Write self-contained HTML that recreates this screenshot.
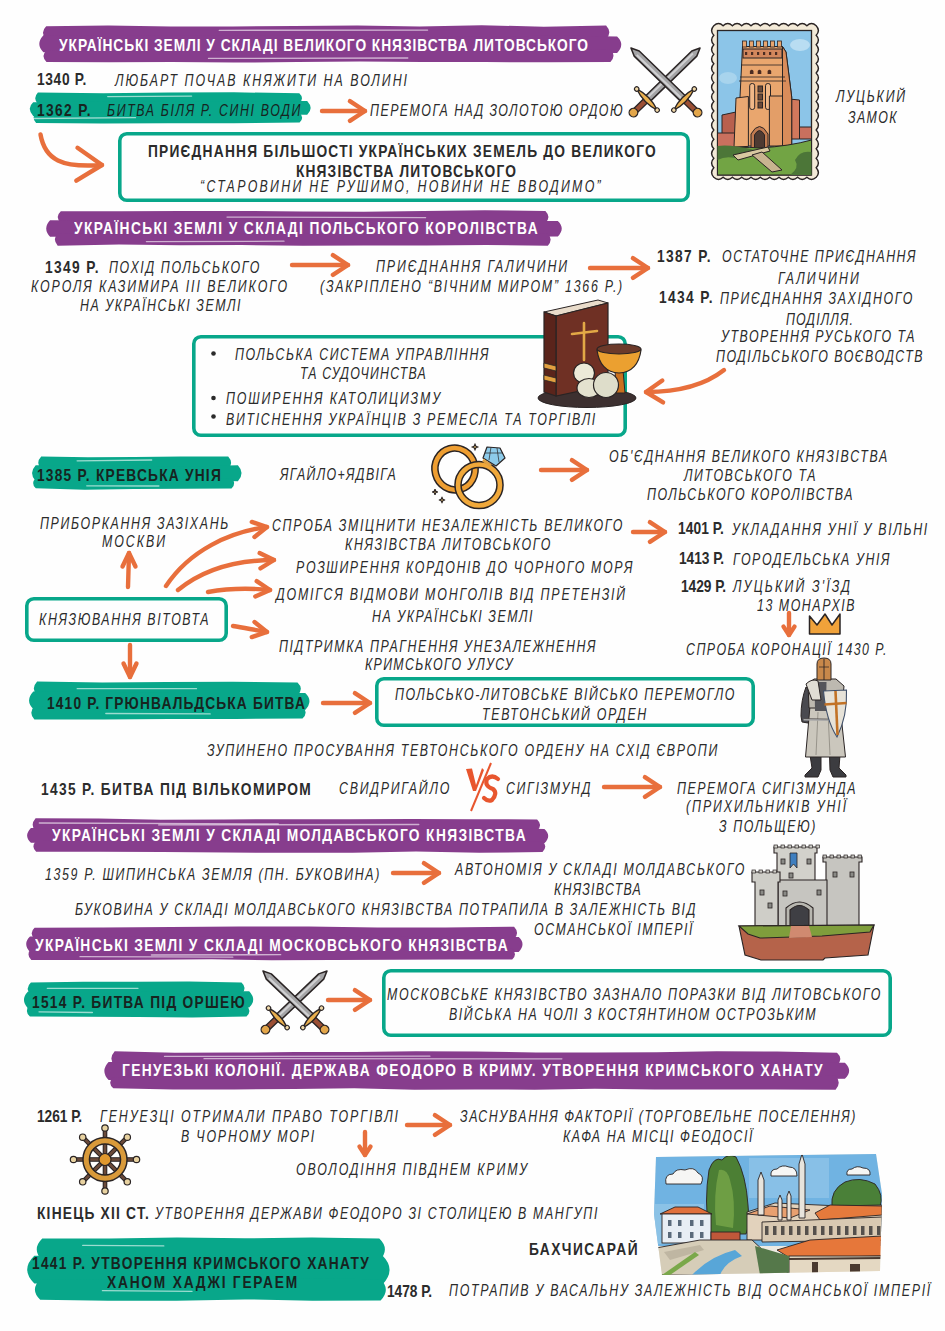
<!DOCTYPE html>
<html><head><meta charset="utf-8"><style>
html,body{margin:0;padding:0;}
body{width:945px;height:1331px;position:relative;overflow:hidden;background:#fefefe;font-family:"Liberation Sans", sans-serif;}
.t{position:absolute;white-space:nowrap;line-height:1;transform-origin:0 0;}
svg.bg{position:absolute;left:0;top:0;}
</style></head><body>
<svg class="bg" width="945" height="1331" viewBox="0 0 945 1331">
<path d="M46.2,26.2 L108.4,25.4 L170.6,26.5 L232.8,26.4 L295.0,25.9 L357.3,25.6 L419.5,26.6 L481.7,25.2 L543.9,26.7 L606.1,25.5 Q612.6,32.5 606.1,38.8 L543.9,38.8 L481.7,39.0 L419.5,38.2 L357.3,39.7 L295.0,39.3 L232.8,38.2 L170.6,38.9 L108.4,38.2 L46.2,39.4 Q39.7,32.5 46.2,26.2Z" fill="#873d8d"/><path d="M43.4,35.3 L107.2,36.0 L170.9,35.7 L234.7,35.6 L298.4,35.7 L362.1,36.6 L425.9,36.3 L489.6,36.9 L553.4,35.5 L617.1,36.4 Q625.4,44.4 617.1,53.0 L553.4,52.4 L489.6,53.2 L425.9,52.1 L362.1,52.7 L298.4,51.9 L234.7,52.6 L170.9,52.2 L107.2,52.6 L43.4,52.2 Q35.2,44.4 43.4,35.3Z" fill="#873d8d"/><path d="M46.5,50.5 L109.2,50.3 L171.8,49.4 L234.5,50.4 L297.2,49.8 L359.8,49.0 L422.5,50.2 L485.1,49.2 L547.8,50.1 L610.4,49.6 Q616.6,55.9 610.4,61.9 L547.8,62.3 L485.1,62.1 L422.5,61.9 L359.8,61.6 L297.2,62.1 L234.5,62.6 L171.8,62.1 L109.2,62.3 L46.5,61.9 Q40.4,55.9 46.5,50.5Z" fill="#873d8d"/><path d="M219.2,30.3 L427.6,30.1" stroke="#ffffff" stroke-opacity="0.6" stroke-width="1.3" stroke-linecap="round"/><path d="M208.5,58.4 L407.8,58.0" stroke="#ffffff" stroke-opacity="0.6" stroke-width="1.3" stroke-linecap="round"/>
<path d="M60.8,211.3 L121.3,211.2 L181.9,211.1 L242.5,210.9 L303.1,211.4 L363.7,211.7 L424.2,210.9 L484.8,210.3 L545.4,210.9 Q551.5,217.1 545.4,222.9 L484.8,222.5 L424.2,222.9 L363.7,223.3 L303.1,224.0 L242.5,223.1 L181.9,222.7 L121.3,223.4 L60.8,222.9 Q54.6,217.1 60.8,211.3Z" fill="#873d8d"/><path d="M50.1,220.3 L113.5,220.6 L177.0,220.1 L240.5,220.2 L304.0,220.5 L367.4,220.8 L430.9,221.1 L494.4,220.9 L557.8,220.9 Q565.7,228.3 557.8,236.6 L494.4,236.8 L430.9,236.6 L367.4,235.7 L304.0,237.0 L240.5,235.6 L177.0,235.4 L113.5,236.3 L50.1,236.8 Q42.3,228.3 50.1,220.3Z" fill="#873d8d"/><path d="M57.7,233.2 L119.0,234.2 L180.2,233.8 L241.5,233.4 L302.7,233.4 L364.0,233.4 L425.2,233.2 L486.5,234.1 L547.8,233.5 Q553.5,239.2 547.8,245.7 L486.5,244.9 L425.2,245.6 L364.0,245.5 L302.7,245.7 L241.5,245.0 L180.2,245.3 L119.0,244.5 L57.7,245.8 Q52.0,239.2 57.7,233.2Z" fill="#873d8d"/><path d="M146.4,241.6 L284.0,241.2" stroke="#ffffff" stroke-opacity="0.6" stroke-width="1.3" stroke-linecap="round"/><path d="M227.0,217.1 L425.6,217.7" stroke="#ffffff" stroke-opacity="0.6" stroke-width="1.3" stroke-linecap="round"/>
<path d="M35.6,818.2 L98.3,818.6 L161.0,819.8 L223.7,819.5 L286.4,819.2 L349.1,819.2 L411.8,819.0 L474.4,819.3 L537.1,819.4 Q543.1,824.9 537.1,831.0 L474.4,830.2 L411.8,831.3 L349.1,831.5 L286.4,830.3 L223.7,830.8 L161.0,830.8 L98.3,830.5 L35.6,831.4 Q29.7,824.9 35.6,818.2Z" fill="#873d8d"/><path d="M30.9,827.9 L95.1,828.8 L159.3,828.6 L223.5,828.6 L287.6,828.1 L351.8,828.2 L416.0,828.8 L480.2,827.7 L544.4,829.0 Q552.0,835.8 544.4,843.3 L480.2,843.0 L416.0,842.8 L351.8,844.1 L287.6,843.9 L223.5,844.1 L159.3,844.0 L95.1,843.4 L30.9,842.7 Q23.3,835.8 30.9,827.9Z" fill="#873d8d"/><path d="M36.2,841.0 L99.5,840.8 L162.8,840.5 L226.1,840.9 L289.4,841.1 L352.7,841.4 L416.0,841.1 L479.2,841.4 L542.5,841.4 Q548.1,846.4 542.5,852.1 L479.2,852.7 L416.0,851.5 L352.7,852.8 L289.4,852.7 L226.1,852.6 L162.8,852.1 L99.5,851.8 L36.2,851.7 Q30.6,846.4 36.2,841.0Z" fill="#873d8d"/><path d="M158.7,824.9 L418.8,824.5" stroke="#ffffff" stroke-opacity="0.6" stroke-width="1.3" stroke-linecap="round"/><path d="M39.3,823.0 L278.3,823.9" stroke="#ffffff" stroke-opacity="0.6" stroke-width="1.3" stroke-linecap="round"/>
<path d="M34.6,927.7 L103.1,927.4 L171.6,927.1 L240.1,926.5 L308.6,926.5 L377.1,927.5 L445.6,927.5 L514.1,926.7 Q520.0,932.9 514.1,939.1 L445.6,938.4 L377.1,939.4 L308.6,939.6 L240.1,938.2 L171.6,938.5 L103.1,938.4 L34.6,939.4 Q28.7,932.9 34.6,927.7Z" fill="#873d8d"/><path d="M30.0,936.6 L91.1,936.8 L152.2,936.4 L213.3,936.2 L274.4,936.2 L335.5,936.9 L396.6,936.3 L457.6,936.9 L518.7,936.9 Q526.3,943.8 518.7,952.0 L457.6,951.5 L396.6,951.1 L335.5,952.0 L274.4,950.8 L213.3,950.9 L152.2,951.7 L91.1,950.8 L30.0,952.0 Q22.4,943.8 30.0,936.6Z" fill="#873d8d"/><path d="M31.3,948.8 L91.4,948.9 L151.5,948.2 L211.6,949.3 L271.7,948.1 L331.8,948.4 L392.0,948.7 L452.1,949.6 L512.2,948.6 Q517.8,954.4 512.2,959.5 L452.1,959.5 L392.0,959.7 L331.8,960.1 L271.7,960.2 L211.6,959.3 L151.5,959.7 L91.4,959.9 L31.3,959.9 Q25.7,954.4 31.3,948.8Z" fill="#873d8d"/><path d="M80.0,956.7 L232.8,957.2" stroke="#ffffff" stroke-opacity="0.6" stroke-width="1.3" stroke-linecap="round"/><path d="M151.4,955.0 L280.7,954.7" stroke="#ffffff" stroke-opacity="0.6" stroke-width="1.3" stroke-linecap="round"/>
<path d="M114.7,1051.2 L174.9,1052.7 L235.1,1052.6 L295.3,1052.0 L355.5,1052.1 L415.7,1051.2 L475.8,1051.6 L536.0,1052.4 L596.2,1052.5 L656.4,1052.2 L716.6,1051.2 L776.8,1051.5 L837.0,1052.8 Q843.7,1058.7 837.0,1065.9 L776.8,1064.9 L716.6,1065.9 L656.4,1064.7 L596.2,1064.7 L536.0,1064.8 L475.8,1066.0 L415.7,1064.9 L355.5,1065.4 L295.3,1064.9 L235.1,1064.7 L174.9,1065.6 L114.7,1065.3 Q108.0,1058.7 114.7,1051.2Z" fill="#873d8d"/><path d="M108.6,1062.0 L170.0,1062.4 L231.4,1061.9 L292.7,1062.7 L354.1,1063.0 L415.4,1062.1 L476.8,1061.8 L538.1,1062.0 L599.5,1061.6 L660.8,1062.1 L722.2,1062.9 L783.6,1062.1 L844.9,1062.7 Q853.4,1070.9 844.9,1078.7 L783.6,1079.3 L722.2,1079.3 L660.8,1079.1 L599.5,1079.7 L538.1,1079.5 L476.8,1078.7 L415.4,1078.8 L354.1,1079.1 L292.7,1080.1 L231.4,1080.1 L170.0,1079.7 L108.6,1080.1 Q100.1,1070.9 108.6,1062.0Z" fill="#873d8d"/><path d="M113.3,1077.2 L173.5,1076.8 L233.7,1075.6 L293.9,1076.2 L354.1,1075.6 L414.3,1075.9 L474.5,1075.9 L534.7,1077.1 L594.9,1076.2 L655.1,1076.5 L715.2,1075.8 L775.4,1076.9 L835.6,1075.7 Q841.9,1082.7 835.6,1089.7 L775.4,1089.6 L715.2,1089.4 L655.1,1089.4 L594.9,1088.8 L534.7,1089.7 L474.5,1089.4 L414.3,1089.7 L354.1,1088.3 L293.9,1089.1 L233.7,1089.5 L173.5,1089.6 L113.3,1088.2 Q107.0,1082.7 113.3,1077.2Z" fill="#873d8d"/><path d="M164.5,1056.4 L429.9,1056.2" stroke="#ffffff" stroke-opacity="0.6" stroke-width="1.3" stroke-linecap="round"/><path d="M204.0,1058.7 L561.9,1058.8" stroke="#ffffff" stroke-opacity="0.6" stroke-width="1.3" stroke-linecap="round"/>
<path d="M37.9,92.5 L103.2,93.2 L168.6,92.4 L233.9,92.3 L299.3,93.3 Q304.7,98.4 299.3,103.1 L233.9,104.3 L168.6,103.5 L103.2,104.3 L37.9,103.8 Q32.5,98.4 37.9,92.5Z" fill="#08a78a"/><path d="M33.2,102.2 L101.7,101.6 L170.2,100.9 L238.7,101.4 L307.2,100.9 Q314.1,108.3 307.2,114.8 L238.7,114.5 L170.2,114.4 L101.7,115.4 L33.2,115.9 Q26.3,108.3 33.2,102.2Z" fill="#08a78a"/><path d="M36.1,112.0 L102.0,112.7 L167.8,112.8 L233.7,112.8 L299.6,112.7 Q304.7,117.9 299.6,122.6 L233.7,123.3 L167.8,123.2 L102.0,123.5 L36.1,122.9 Q31.0,117.9 36.1,112.0Z" fill="#08a78a"/><path d="M107.7,96.6 L191.6,96.1" stroke="#ffffff" stroke-opacity="0.6" stroke-width="1.3" stroke-linecap="round"/><path d="M30.4,118.5 L135.5,117.7" stroke="#ffffff" stroke-opacity="0.6" stroke-width="1.3" stroke-linecap="round"/>
<path d="M41.2,456.6 L88.0,457.3 L134.7,457.1 L181.5,456.4 L228.2,456.5 Q234.0,462.8 228.2,469.2 L181.5,468.4 L134.7,468.8 L88.0,468.7 L41.2,469.0 Q35.4,462.8 41.2,456.6Z" fill="#08a78a"/><path d="M35.7,465.3 L86.2,465.3 L136.8,465.7 L187.3,466.5 L237.9,465.3 Q245.3,473.3 237.9,481.3 L187.3,479.9 L136.8,480.5 L86.2,481.0 L35.7,481.2 Q28.3,473.3 35.7,465.3Z" fill="#08a78a"/><path d="M35.8,478.1 L84.7,478.9 L133.7,477.5 L182.6,477.5 L231.5,478.3 Q237.0,483.6 231.5,488.5 L182.6,488.7 L133.7,488.9 L84.7,489.7 L35.8,488.3 Q30.4,483.6 35.8,478.1Z" fill="#08a78a"/><path d="M77.1,460.8 L151.7,460.0" stroke="#ffffff" stroke-opacity="0.6" stroke-width="1.3" stroke-linecap="round"/><path d="M86.7,485.8 L158.9,486.0" stroke="#ffffff" stroke-opacity="0.6" stroke-width="1.3" stroke-linecap="round"/>
<path d="M37.1,681.4 L102.2,682.4 L167.3,682.1 L232.4,681.7 L297.5,682.5 Q304.2,688.7 297.5,695.5 L232.4,695.2 L167.3,694.9 L102.2,694.7 L37.1,694.9 Q30.5,688.7 37.1,681.4Z" fill="#08a78a"/><path d="M33.3,691.6 L101.3,691.8 L169.3,692.9 L237.2,692.9 L305.2,693.1 Q313.7,700.9 305.2,709.9 L237.2,709.8 L169.3,709.9 L101.3,710.0 L33.3,709.0 Q24.8,700.9 33.3,691.6Z" fill="#08a78a"/><path d="M34.4,706.0 L101.5,706.4 L168.5,706.5 L235.5,706.2 L302.5,706.1 Q308.8,712.7 302.5,718.4 L235.5,718.9 L168.5,718.9 L101.5,719.4 L34.4,719.6 Q28.2,712.7 34.4,706.0Z" fill="#08a78a"/><path d="M105.8,713.5 L210.2,713.9" stroke="#ffffff" stroke-opacity="0.6" stroke-width="1.3" stroke-linecap="round"/><path d="M77.2,688.7 L196.5,688.7" stroke="#ffffff" stroke-opacity="0.6" stroke-width="1.3" stroke-linecap="round"/>
<path d="M30.9,982.4 L83.6,981.7 L136.2,981.8 L188.9,981.4 L241.5,982.6 Q247.8,988.3 241.5,994.4 L188.9,994.2 L136.2,995.0 L83.6,994.9 L30.9,994.9 Q24.6,988.3 30.9,982.4Z" fill="#08a78a"/><path d="M28.0,991.4 L83.3,992.0 L138.6,991.9 L193.9,991.3 L249.2,991.2 Q257.2,999.8 249.2,1007.6 L193.9,1008.1 L138.6,1008.2 L83.3,1007.3 L28.0,1008.4 Q19.9,999.8 28.0,991.4Z" fill="#08a78a"/><path d="M29.9,1004.4 L84.0,1005.9 L138.2,1005.9 L192.3,1005.3 L246.5,1005.4 Q252.4,1011.0 246.5,1016.4 L192.3,1017.6 L138.2,1016.9 L84.0,1016.8 L29.9,1016.5 Q23.9,1011.0 29.9,1004.4Z" fill="#08a78a"/><path d="M39.0,1011.8 L92.4,1012.5" stroke="#ffffff" stroke-opacity="0.6" stroke-width="1.3" stroke-linecap="round"/><path d="M47.3,988.3 L138.0,988.3" stroke="#ffffff" stroke-opacity="0.6" stroke-width="1.3" stroke-linecap="round"/>
<path d="M42.3,1238.6 L109.7,1238.6 L177.1,1237.6 L244.5,1238.3 L311.9,1237.6 L379.3,1238.6 Q390.5,1249.2 379.3,1260.9 L311.9,1259.9 L244.5,1260.0 L177.1,1260.1 L109.7,1261.1 L42.3,1260.6 Q31.2,1249.2 42.3,1238.6Z" fill="#08a78a"/><path d="M34.3,1255.8 L103.9,1256.0 L173.6,1254.9 L243.2,1255.2 L312.8,1255.5 L382.4,1255.5 Q396.7,1269.6 382.4,1284.6 L312.8,1283.7 L243.2,1283.2 L173.6,1283.8 L103.9,1283.9 L34.3,1283.4 Q20.1,1269.6 34.3,1255.8Z" fill="#08a78a"/><path d="M40.2,1279.2 L108.3,1279.5 L176.3,1278.9 L244.4,1278.2 L312.5,1278.4 L380.6,1279.2 Q391.1,1289.5 380.6,1300.4 L312.5,1300.7 L244.4,1299.4 L176.3,1300.7 L108.3,1300.8 L40.2,1299.8 Q29.6,1289.5 40.2,1279.2Z" fill="#08a78a"/><path d="M102.4,1290.7 L192.0,1291.4" stroke="#ffffff" stroke-opacity="0.6" stroke-width="1.3" stroke-linecap="round"/><path d="M82.7,1245.4 L163.8,1245.9" stroke="#ffffff" stroke-opacity="0.6" stroke-width="1.3" stroke-linecap="round"/>
<rect x="119.8" y="133.8" width="568.4" height="66.4" rx="7" fill="none" stroke="#08a78a" stroke-width="3.6"/>
<rect x="193.8" y="336.8" width="431.4" height="98.4" rx="7" fill="none" stroke="#08a78a" stroke-width="3.6"/>
<rect x="26.8" y="598.8" width="199.4" height="41.4" rx="7" fill="none" stroke="#08a78a" stroke-width="3.6"/>
<rect x="376.8" y="678.8" width="376.4" height="46.4" rx="7" fill="none" stroke="#08a78a" stroke-width="3.6"/>
<rect x="383.8" y="970.8" width="506.4" height="64.4" rx="7" fill="none" stroke="#08a78a" stroke-width="3.6"/>
<path d="M322,111 L365,111" fill="none" stroke="#e86f3c" stroke-width="4.4" stroke-linecap="round"/><path d="M349.9,120.9 L365,111 L349.9,101.1" fill="none" stroke="#e86f3c" stroke-width="4.4" stroke-linecap="round" stroke-linejoin="round"/>
<path d="M40.5,134.5 C45,160 62,168 102,165" fill="none" stroke="#e86f3c" stroke-width="4.4" stroke-linecap="round"/><path d="M76.3,180.6 L102,165 L77.5,147.7" fill="none" stroke="#e86f3c" stroke-width="4.4" stroke-linecap="round" stroke-linejoin="round"/>
<path d="M292,265 L348,265" fill="none" stroke="#e86f3c" stroke-width="4.4" stroke-linecap="round"/><path d="M332.9,274.9 L348,265 L332.9,255.1" fill="none" stroke="#e86f3c" stroke-width="4.4" stroke-linecap="round" stroke-linejoin="round"/>
<path d="M590,268 L648,268" fill="none" stroke="#e86f3c" stroke-width="4.4" stroke-linecap="round"/><path d="M632.9,277.9 L648,268 L632.9,258.1" fill="none" stroke="#e86f3c" stroke-width="4.4" stroke-linecap="round" stroke-linejoin="round"/>
<path d="M724,370 C705,385 680,392 646,392" fill="none" stroke="#e86f3c" stroke-width="4.4" stroke-linecap="round"/><path d="M662.3,380.5 L646,392 L663.1,402.4" fill="none" stroke="#e86f3c" stroke-width="4.4" stroke-linecap="round" stroke-linejoin="round"/>
<path d="M541,470 L587,470" fill="none" stroke="#e86f3c" stroke-width="4.4" stroke-linecap="round"/><path d="M571.9,479.9 L587,470 L571.9,460.1" fill="none" stroke="#e86f3c" stroke-width="4.4" stroke-linecap="round" stroke-linejoin="round"/>
<path d="M166,586 C190,550 230,532 267,527" fill="none" stroke="#e86f3c" stroke-width="4.4" stroke-linecap="round"/><path d="M254.5,537.0 L267,527 L251.8,521.9" fill="none" stroke="#e86f3c" stroke-width="4.4" stroke-linecap="round" stroke-linejoin="round"/>
<path d="M178,590 C205,568 240,560 274,560" fill="none" stroke="#e86f3c" stroke-width="4.4" stroke-linecap="round"/><path d="M260.4,568.4 L274,560 L259.6,553.1" fill="none" stroke="#e86f3c" stroke-width="4.4" stroke-linecap="round" stroke-linejoin="round"/>
<path d="M208,592 C230,588 250,588 270,590" fill="none" stroke="#e86f3c" stroke-width="4.4" stroke-linecap="round"/><path d="M255.3,596.4 L270,590 L256.7,581.1" fill="none" stroke="#e86f3c" stroke-width="4.4" stroke-linecap="round" stroke-linejoin="round"/>
<path d="M233,626 C245,628 255,630 267,632" fill="none" stroke="#e86f3c" stroke-width="4.4" stroke-linecap="round"/><path d="M251.8,637.1 L267,632 L254.5,622.0" fill="none" stroke="#e86f3c" stroke-width="4.4" stroke-linecap="round" stroke-linejoin="round"/>
<path d="M128,587 L129,553" fill="none" stroke="#e86f3c" stroke-width="4.4" stroke-linecap="round"/><path d="M135.5,566.5 L129,553 L122.5,566.5" fill="none" stroke="#e86f3c" stroke-width="4.4" stroke-linecap="round" stroke-linejoin="round"/>
<path d="M130,645 L130,677" fill="none" stroke="#e86f3c" stroke-width="4.4" stroke-linecap="round"/><path d="M123.5,663.5 L130,677 L136.5,663.5" fill="none" stroke="#e86f3c" stroke-width="4.4" stroke-linecap="round" stroke-linejoin="round"/>
<path d="M633,532 L665,532" fill="none" stroke="#e86f3c" stroke-width="4.4" stroke-linecap="round"/><path d="M649.9,541.9 L665,532 L649.9,522.1" fill="none" stroke="#e86f3c" stroke-width="4.4" stroke-linecap="round" stroke-linejoin="round"/>
<path d="M789,613 L789,635" fill="none" stroke="#e86f3c" stroke-width="4.4" stroke-linecap="round"/><path d="M783.5,626.6 L789,635 L794.5,626.6" fill="none" stroke="#e86f3c" stroke-width="4.4" stroke-linecap="round" stroke-linejoin="round"/>
<path d="M323,703 L370,703" fill="none" stroke="#e86f3c" stroke-width="4.4" stroke-linecap="round"/><path d="M354.9,712.9 L370,703 L354.9,693.1" fill="none" stroke="#e86f3c" stroke-width="4.4" stroke-linecap="round" stroke-linejoin="round"/>
<path d="M604,787 L660,787" fill="none" stroke="#e86f3c" stroke-width="4.4" stroke-linecap="round"/><path d="M644.9,796.9 L660,787 L644.9,777.1" fill="none" stroke="#e86f3c" stroke-width="4.4" stroke-linecap="round" stroke-linejoin="round"/>
<path d="M393,873 L439,873" fill="none" stroke="#e86f3c" stroke-width="4.4" stroke-linecap="round"/><path d="M423.9,882.9 L439,873 L423.9,863.1" fill="none" stroke="#e86f3c" stroke-width="4.4" stroke-linecap="round" stroke-linejoin="round"/>
<path d="M328,1000 L370,1000" fill="none" stroke="#e86f3c" stroke-width="4.4" stroke-linecap="round"/><path d="M354.9,1009.9 L370,1000 L354.9,990.1" fill="none" stroke="#e86f3c" stroke-width="4.4" stroke-linecap="round" stroke-linejoin="round"/>
<path d="M407,1125 L450,1125" fill="none" stroke="#e86f3c" stroke-width="4.4" stroke-linecap="round"/><path d="M434.9,1134.9 L450,1125 L434.9,1115.1" fill="none" stroke="#e86f3c" stroke-width="4.4" stroke-linecap="round" stroke-linejoin="round"/>
<path d="M365,1132 L365,1155" fill="none" stroke="#e86f3c" stroke-width="4.4" stroke-linecap="round"/><path d="M359.5,1146.6 L365,1155 L370.5,1146.6" fill="none" stroke="#e86f3c" stroke-width="4.4" stroke-linecap="round" stroke-linejoin="round"/>
<circle cx="213.5" cy="353.5" r="2.3" fill="#2b2b2b"/>
<circle cx="213.5" cy="398" r="2.3" fill="#2b2b2b"/>
<circle cx="213.5" cy="416.5" r="2.3" fill="#2b2b2b"/>
<g transform="translate(632,114) rotate(-44.14)"><path d="M20.8,-3.6 L86.8,-3.6 L94.8,0 L86.8,3.6 L20.8,3.6 Z" fill="#a4a4a6" stroke="#2a2424" stroke-width="1.5" stroke-linejoin="round"/><path d="M22.8,-1 L85.8,-1" stroke="#d0d0d2" stroke-width="2"/><rect x="3" y="-2.8" width="17.8" height="5.6" fill="#9c4f34" stroke="#2a2424" stroke-width="1.3"/><circle cx="2" cy="0" r="4.3" fill="#e3a64a" stroke="#2a2424" stroke-width="1.3"/><path d="M20.8,-14.7 Q25.8,0 20.8,14.7 Q15.8,0 20.8,-14.7 Z" fill="#eab04e" stroke="#2a2424" stroke-width="1.4"/><circle cx="20.8" cy="-14.7" r="2.2" fill="#f1d9a8" stroke="#2a2424" stroke-width="1.1"/><circle cx="20.8" cy="14.7" r="2.2" fill="#f1d9a8" stroke="#2a2424" stroke-width="1.1"/></g><g transform="translate(699,114) rotate(-135.86)"><path d="M20.8,-3.6 L86.8,-3.6 L94.8,0 L86.8,3.6 L20.8,3.6 Z" fill="#a4a4a6" stroke="#2a2424" stroke-width="1.5" stroke-linejoin="round"/><path d="M22.8,-1 L85.8,-1" stroke="#d0d0d2" stroke-width="2"/><rect x="3" y="-2.8" width="17.8" height="5.6" fill="#9c4f34" stroke="#2a2424" stroke-width="1.3"/><circle cx="2" cy="0" r="4.3" fill="#e3a64a" stroke="#2a2424" stroke-width="1.3"/><path d="M20.8,-14.7 Q25.8,0 20.8,14.7 Q15.8,0 20.8,-14.7 Z" fill="#eab04e" stroke="#2a2424" stroke-width="1.4"/><circle cx="20.8" cy="-14.7" r="2.2" fill="#f1d9a8" stroke="#2a2424" stroke-width="1.1"/><circle cx="20.8" cy="14.7" r="2.2" fill="#f1d9a8" stroke="#2a2424" stroke-width="1.1"/></g><path d="M713.8,25.8 Q718.5,21.4 723.1,25.8 Q727.8,21.4 732.4,25.8 Q737.1,21.4 741.7,25.8 Q746.4,21.4 751.0,25.8 Q755.7,21.4 760.3,25.8 Q765.0,21.4 769.7,25.8 Q774.3,21.4 779.0,25.8 Q783.6,21.4 788.3,25.8 Q792.9,21.4 797.6,25.8 Q802.2,21.4 806.9,25.8 Q811.5,21.4 816.2,25.8 Q820.6,30.5 816.2,35.3 Q820.6,40.0 816.2,44.7 Q820.6,49.5 816.2,54.2 Q820.6,58.9 816.2,63.6 Q820.6,68.4 816.2,73.1 Q820.6,77.8 816.2,82.6 Q820.6,87.3 816.2,92.0 Q820.6,96.8 816.2,101.5 Q820.6,106.2 816.2,111.0 Q820.6,115.7 816.2,120.4 Q820.6,125.2 816.2,129.9 Q820.6,134.6 816.2,139.3 Q820.6,144.1 816.2,148.8 Q820.6,153.5 816.2,158.3 Q820.6,163.0 816.2,167.7 Q820.6,172.5 816.2,177.2 Q811.5,181.6 806.9,177.2 Q802.2,181.6 797.6,177.2 Q792.9,181.6 788.3,177.2 Q783.6,181.6 779.0,177.2 Q774.3,181.6 769.7,177.2 Q765.0,181.6 760.3,177.2 Q755.7,181.6 751.0,177.2 Q746.4,181.6 741.7,177.2 Q737.1,181.6 732.4,177.2 Q727.8,181.6 723.1,177.2 Q718.5,181.6 713.8,177.2 Q709.4,172.5 713.8,167.7 Q709.4,163.0 713.8,158.3 Q709.4,153.5 713.8,148.8 Q709.4,144.1 713.8,139.3 Q709.4,134.6 713.8,129.9 Q709.4,125.2 713.8,120.4 Q709.4,115.7 713.8,111.0 Q709.4,106.2 713.8,101.5 Q709.4,96.8 713.8,92.0 Q709.4,87.3 713.8,82.6 Q709.4,77.8 713.8,73.1 Q709.4,68.4 713.8,63.7 Q709.4,58.9 713.8,54.2 Q709.4,49.5 713.8,44.7 Q709.4,40.0 713.8,35.3 Q709.4,30.5 713.8,25.8Z" fill="#f3ead8" stroke="#2a2424" stroke-width="1.4"/><rect x="717.5" y="30.5" width="94.0" height="144.5" fill="#8cc5e8" stroke="#2a2424" stroke-width="1.3"/><ellipse cx="800" cy="45" rx="10" ry="6" fill="#c4e2f4" opacity="0.8"/><ellipse cx="728" cy="78" rx="9" ry="6" fill="#b4daf0" opacity="0.7"/><path d="M722,115 L736,112 L736,134 L722,134 Z" fill="#b8604e" stroke="#2a2424" stroke-width="1"/><path d="M717.5,133 L736,133 L736,152 L717.5,152 Z" fill="#c9705e" stroke="#2a2424" stroke-width="1"/><path d="M789,99 L799.5,100 L799.5,139 L789,139 Z" fill="#d2785c" stroke="#2a2424" stroke-width="1"/><path d="M799.5,127 L811.5,127 L811.5,139 L799.5,139 Z" fill="#c9705e" stroke="#2a2424" stroke-width="1"/><path d="M742.5,46.5 L782.5,46.5 L786,52 L791.7,97 L791.7,146 L736,146 L740,97 Z" fill="#e9a66e" stroke="#2a2424" stroke-width="1" stroke-linejoin="round"/><path d="M782.5,46.5 L786,52 L791.7,97 L791.7,146 L782.5,146 Z" fill="#d98c5a" stroke="#2a2424" stroke-width="1"/><rect x="742.5" y="41" width="4" height="6" fill="#e9a66e" stroke="#2a2424" stroke-width="0.8"/><rect x="749.5" y="41" width="4" height="6" fill="#e9a66e" stroke="#2a2424" stroke-width="0.8"/><rect x="756.5" y="41" width="4" height="6" fill="#e9a66e" stroke="#2a2424" stroke-width="0.8"/><rect x="763.5" y="41" width="4" height="6" fill="#e9a66e" stroke="#2a2424" stroke-width="0.8"/><rect x="770.5" y="41" width="4" height="6" fill="#e9a66e" stroke="#2a2424" stroke-width="0.8"/><rect x="777.5" y="41" width="4" height="6" fill="#e9a66e" stroke="#2a2424" stroke-width="0.8"/><rect x="743" y="49" width="39" height="9" fill="#d2875c" stroke="#2a2424" stroke-width="1"/><rect x="745.0" y="52" width="2.2" height="3" fill="#4a2c22"/><rect x="751.0" y="52" width="2.2" height="3" fill="#4a2c22"/><rect x="757.0" y="52" width="2.2" height="3" fill="#4a2c22"/><rect x="763.0" y="52" width="2.2" height="3" fill="#4a2c22"/><rect x="769.0" y="52" width="2.2" height="3" fill="#4a2c22"/><rect x="775.0" y="52" width="2.2" height="3" fill="#4a2c22"/><path d="M741,65 L783,65 M740,77 L785,77 M739,81 L786,81" stroke="#2a2424" stroke-width="0.8"/><path d="M749.9,74 L749.9,71 Q751.7,68.5 753.5,71 L753.5,74 Z" fill="#4a2c22"/><path d="M757.7,74 L757.7,71 Q759.5,68.5 761.3,71 L761.3,74 Z" fill="#4a2c22"/><path d="M767.6,74 L767.6,71 Q769.4,68.5 771.2,71 L771.2,74 Z" fill="#4a2c22"/><rect x="749.7" y="83.5" width="5" height="26" rx="2.3" fill="#f0b888" stroke="#2a2424" stroke-width="1"/><rect x="765.5" y="83.5" width="5" height="26" rx="2.3" fill="#f0b888" stroke="#2a2424" stroke-width="1"/><rect x="758" y="86" width="4.5" height="6" fill="#6a4a3a" stroke="#2a2424" stroke-width="1"/><rect x="758" y="94" width="4.5" height="6" fill="#6a4a3a" stroke="#2a2424" stroke-width="1"/><rect x="758" y="102" width="4.5" height="6" fill="#6a4a3a" stroke="#2a2424" stroke-width="1"/><path d="M736,98 L748.4,96.5 L748.4,146.4 L734,147 Z" fill="#eaa872" stroke="#2a2424" stroke-width="1"/><path d="M769.4,96 L782.5,96 L782.5,146 L769.4,146 Z" fill="#e39e68" stroke="#2a2424" stroke-width="1"/><path d="M751,149 L751,134 Q759.5,119 768,134 L768,149 Z" fill="#c07a50" stroke="#2a2424" stroke-width="1"/><path d="M754.5,149 L754.5,135 Q759.5,126 764.5,135 L764.5,149 Z" fill="#4e3a32" stroke="#2a2424" stroke-width="1"/><path d="M717.5,150 Q740,146 760,148 Q790,146 811.5,140 L811.5,175 L717.5,175 Z" fill="#72a444" stroke="#2a2424" stroke-width="1"/><path d="M717.5,146 Q730,144 755,150 L735,158 Q725,156 717.5,160 Z" fill="#4c7638"/><path d="M811.5,152 Q800,150 795,160 Q800,168 790,175 L811.5,175 Z" fill="#4c7638"/><path d="M733,155 L768,147 L770,151 L738,160 Z" fill="#d8c8a0" stroke="#2a2424" stroke-width="1"/><path d="M752,155 L762,152 L782,170 L772,172 Z" fill="#c8b490" stroke="#2a2424" stroke-width="1"/><ellipse cx="587" cy="398" rx="49" ry="9.5" fill="#3d3030" stroke="#2a2424" stroke-width="1"/><path d="M544,312 L598,300 L608,303 L556,316 Z" fill="#e9dccb" stroke="#2a2424" stroke-width="1"/><path d="M556,316 L608,303 L608,385 L556,396 Z" fill="#6f3024" stroke="#2a2424" stroke-width="1.2"/><path d="M544,312 L556,316 L556,396 L544,392 Z" fill="#5a241b" stroke="#2a2424" stroke-width="1.2"/><path d="M544,363 L556,366 L556,371 L544,368 Z M544,375 L556,378 L556,383 L544,380 Z" fill="#e2a040" stroke="#2a2424" stroke-width="0.8"/><path d="M584,323 L584,360 M572,334 L597,331" stroke="#e2a846" stroke-width="2.6" stroke-linecap="round"/><path d="M615,370 L616,393 L625,393 L623,370 Z" fill="#c9701e" stroke="#2a2424" stroke-width="1"/><path d="M597,350 Q600,372 619,373 Q638,372 641,350 Z" fill="#eba030" stroke="#2a2424" stroke-width="1.2"/><ellipse cx="619" cy="349" rx="22" ry="5" fill="#6b3a2a" stroke="#2a2424" stroke-width="1.2"/><ellipse cx="584" cy="373" rx="10.5" ry="10" fill="#ecead8" stroke="#2a2424" stroke-width="1.2"/><ellipse cx="589" cy="388" rx="12" ry="9.5" fill="#e4e2cf" stroke="#2a2424" stroke-width="1.2"/><ellipse cx="606" cy="385" rx="12.5" ry="12.5" fill="#deddca" stroke="#2a2424" stroke-width="1.2"/><ellipse cx="455" cy="469" rx="20" ry="21" fill="none" stroke="#2a2424" stroke-width="7.6" transform="rotate(-15 455 469)"/><ellipse cx="455" cy="469" rx="20" ry="21" fill="none" stroke="#ee9e32" stroke-width="4.6" transform="rotate(-15 455 469)"/><ellipse cx="479" cy="485" rx="21" ry="20.5" fill="none" stroke="#2a2424" stroke-width="7.6"/><ellipse cx="479" cy="485" rx="21" ry="20.5" fill="none" stroke="#f0a83a" stroke-width="4.6"/><path d="M487,447 L500,448 L505,458 L496,466 L483,458 Z" fill="#8dcbea" stroke="#2a2424" stroke-width="1.2" stroke-linejoin="round"/><path d="M485,453 L503,453 M491,447 L489,460 M497,448 L499,462" stroke="#2a2424" stroke-width="0.7"/><path d="M483,460 L491,466" stroke="#e0a040" stroke-width="3"/><path d="M475,443.5 Q475,447 478.5,447 Q475,447 475,450.5 Q475,447 471.5,447 Q475,447 475,443.5 Z" fill="#e8c070" stroke="#2a2424" stroke-width="1.2"/><path d="M435,489 Q435,492 438,492 Q435,492 435,495 Q435,492 432,492 Q435,492 435,489 Z" fill="#e8c070" stroke="#2a2424" stroke-width="1.2"/><path d="M442,496.8 Q442,500 445.2,500 Q442,500 442,503.2 Q442,500 438.8,500 Q442,500 442,496.8 Z" fill="#e8c070" stroke="#2a2424" stroke-width="1.2"/><path d="M809.5,634 L809.5,616 L817,625 L825,614 L832,625 L840,614 L840,634 Z" fill="#f0a23a" stroke="#2a2424" stroke-width="1.5" stroke-linejoin="round"/><path d="M810,755 L812,768 L805,775 L805,777 L818,777 L821,770 L821,755 Z" fill="#3c3c40" stroke="#2a2424" stroke-width="1"/><path d="M829.5,755 L830,770 L833,777 L846,777 L846,775 L839,768 L840,755 Z" fill="#3c3c40" stroke="#2a2424" stroke-width="1"/><path d="M806,687 Q801,700 801,716 L802,722 L808,723 L811,716 L813,692 Z" fill="#4a4a50" stroke="#2a2424" stroke-width="1"/><path d="M810,706 L840,706 L845.5,757 L805.5,757 Z" fill="#cbc7bd" stroke="#2a2424" stroke-width="1"/><path d="M818,712 L816,755 M828,712 L830,755" stroke="#8a867e" stroke-width="0.8"/><path d="M808,684 L814,679 L836,679 L844,686 L842,708 L809,708 Z" fill="#bdb9b0" stroke="#2a2424" stroke-width="1"/><path d="M814.5,682 L826.5,682 L826,711 L815,711 Z" fill="#55555a"/><path d="M806,684 Q812,678 818,681 L821,700 L812,700 Z" fill="#e0ddd4" stroke="#2a2424" stroke-width="1"/><path d="M803.5,719.5 L829,720" stroke="#a8a8a8" stroke-width="2.2"/><path d="M803.5,718.5 L829,719" stroke="#2a2424" stroke-width="0.5"/><path d="M817,680 L817,664 Q817,658 824,658 Q831,658 831,664 L831,680 Z" fill="#c8884a" stroke="#2a2424" stroke-width="1"/><path d="M824,659 L824,680" stroke="#2a2424" stroke-width="0.9"/><path d="M819,667 L829,667" stroke="#2a2424" stroke-width="0.7"/><path d="M823.5,691 L846.5,690 Q847.5,716 837,737 Q826,720 823.5,691 Z" fill="#e6e2d8" stroke="#40506a" stroke-width="1.1"/><path d="M835.5,691 L837.5,735" stroke="#c27226" stroke-width="2.6"/><path d="M824.5,704.5 L846.5,703" stroke="#c27226" stroke-width="2.6"/><path d="M823,857 L862,857 L862,862 L859,862 L859,926 L826,926 L826,862 L823,862 Z" fill="#c6c5c0" stroke="#2a2424" stroke-width="1.1"/><path d="M774,847 L817,847 L817,853 L815,853 L815,882 L777,882 L777,853 L774,853 Z" fill="#d2d1cb" stroke="#2a2424" stroke-width="1.1"/><path d="M778,880 L827,880 L827,926 L778,926 Z" fill="#c6c5c0" stroke="#2a2424" stroke-width="1.1"/><path d="M752,872 L780,872 L780,882 L778,882 L778,926 L755,926 L755,882 L752,882 Z" fill="#cfcec8" stroke="#2a2424" stroke-width="1.1"/><rect x="774" y="845" width="3.5" height="3" fill="#d2d1cb" stroke="#2a2424" stroke-width="0.7"/><rect x="781" y="845" width="3.5" height="3" fill="#d2d1cb" stroke="#2a2424" stroke-width="0.7"/><rect x="788" y="845" width="3.5" height="3" fill="#d2d1cb" stroke="#2a2424" stroke-width="0.7"/><rect x="795" y="845" width="3.5" height="3" fill="#d2d1cb" stroke="#2a2424" stroke-width="0.7"/><rect x="802" y="845" width="3.5" height="3" fill="#d2d1cb" stroke="#2a2424" stroke-width="0.7"/><rect x="809" y="845" width="3.5" height="3" fill="#d2d1cb" stroke="#2a2424" stroke-width="0.7"/><rect x="816" y="845" width="3.5" height="3" fill="#d2d1cb" stroke="#2a2424" stroke-width="0.7"/><rect x="823" y="855" width="3.5" height="3" fill="#c6c5c0" stroke="#2a2424" stroke-width="0.7"/><rect x="830" y="855" width="3.5" height="3" fill="#c6c5c0" stroke="#2a2424" stroke-width="0.7"/><rect x="837" y="855" width="3.5" height="3" fill="#c6c5c0" stroke="#2a2424" stroke-width="0.7"/><rect x="844" y="855" width="3.5" height="3" fill="#c6c5c0" stroke="#2a2424" stroke-width="0.7"/><rect x="851" y="855" width="3.5" height="3" fill="#c6c5c0" stroke="#2a2424" stroke-width="0.7"/><rect x="858" y="855" width="3.5" height="3" fill="#c6c5c0" stroke="#2a2424" stroke-width="0.7"/><rect x="752" y="870" width="3.5" height="3" fill="#cfcec8" stroke="#2a2424" stroke-width="0.7"/><rect x="759" y="870" width="3.5" height="3" fill="#cfcec8" stroke="#2a2424" stroke-width="0.7"/><rect x="766" y="870" width="3.5" height="3" fill="#cfcec8" stroke="#2a2424" stroke-width="0.7"/><rect x="773" y="870" width="3.5" height="3" fill="#cfcec8" stroke="#2a2424" stroke-width="0.7"/><path d="M790,853 L797,853 L797,868 L793.5,864 L790,868 Z" fill="#3f7fbf" stroke="#2a2424" stroke-width="0.8"/><rect x="781" y="859" width="4" height="5" fill="#8a8a86" stroke="#2a2424" stroke-width="0.8"/><rect x="807" y="859" width="4" height="5" fill="#8a8a86" stroke="#2a2424" stroke-width="0.8"/><rect x="789" y="873" width="4" height="5" fill="#8a8a86" stroke="#2a2424" stroke-width="0.8"/><rect x="760" y="890" width="4" height="5" fill="#8a8a86" stroke="#2a2424" stroke-width="0.8"/><rect x="768" y="903" width="4" height="5" fill="#8a8a86" stroke="#2a2424" stroke-width="0.8"/><rect x="783" y="891" width="4" height="5" fill="#8a8a86" stroke="#2a2424" stroke-width="0.8"/><rect x="817" y="890" width="4" height="5" fill="#8a8a86" stroke="#2a2424" stroke-width="0.8"/><rect x="833" y="872" width="4" height="5" fill="#8a8a86" stroke="#2a2424" stroke-width="0.8"/><rect x="850" y="872" width="4" height="5" fill="#8a8a86" stroke="#2a2424" stroke-width="0.8"/><path d="M786,926 L786,908 Q799.5,896 813,908 L813,926 Z" fill="#b8b7b0" stroke="#2a2424" stroke-width="1.1"/><path d="M790,926 L790,910 Q799.5,901 809,910 L809,926 Z" fill="#3f3f44" stroke="#2a2424" stroke-width="1.1"/><path d="M739,926 L874,925 L868,955 L825,958 L823,960 L761,960 L745,955 Z" fill="#b5634a" stroke="#2a2424" stroke-width="1.1"/><path d="M739,926 L874,925 L870,932 L822,936 L760,938 L748,934 Z" fill="#7f9e3c" stroke="#2a2424" stroke-width="1.1"/><path d="M791,926 L809,926 L812,937 L789,938 Z" fill="#d08a70"/><g transform="translate(264,1031) rotate(-43.60)"><path d="M19.1,-3.6 L79.0,-3.6 L87.0,0 L79.0,3.6 L19.1,3.6 Z" fill="#a4a4a6" stroke="#2a2424" stroke-width="1.5" stroke-linejoin="round"/><path d="M21.1,-1 L78.0,-1" stroke="#d0d0d2" stroke-width="2"/><rect x="3" y="-2.8" width="16.1" height="5.6" fill="#9c4f34" stroke="#2a2424" stroke-width="1.3"/><circle cx="2" cy="0" r="4.3" fill="#e3a64a" stroke="#2a2424" stroke-width="1.3"/><path d="M19.1,-13.5 Q24.1,0 19.1,13.5 Q14.1,0 19.1,-13.5 Z" fill="#eab04e" stroke="#2a2424" stroke-width="1.4"/><circle cx="19.1" cy="-13.5" r="2.2" fill="#f1d9a8" stroke="#2a2424" stroke-width="1.1"/><circle cx="19.1" cy="13.5" r="2.2" fill="#f1d9a8" stroke="#2a2424" stroke-width="1.1"/></g><g transform="translate(326,1031) rotate(-136.40)"><path d="M19.1,-3.6 L79.0,-3.6 L87.0,0 L79.0,3.6 L19.1,3.6 Z" fill="#a4a4a6" stroke="#2a2424" stroke-width="1.5" stroke-linejoin="round"/><path d="M21.1,-1 L78.0,-1" stroke="#d0d0d2" stroke-width="2"/><rect x="3" y="-2.8" width="16.1" height="5.6" fill="#9c4f34" stroke="#2a2424" stroke-width="1.3"/><circle cx="2" cy="0" r="4.3" fill="#e3a64a" stroke="#2a2424" stroke-width="1.3"/><path d="M19.1,-13.5 Q24.1,0 19.1,13.5 Q14.1,0 19.1,-13.5 Z" fill="#eab04e" stroke="#2a2424" stroke-width="1.4"/><circle cx="19.1" cy="-13.5" r="2.2" fill="#f1d9a8" stroke="#2a2424" stroke-width="1.1"/><circle cx="19.1" cy="13.5" r="2.2" fill="#f1d9a8" stroke="#2a2424" stroke-width="1.1"/></g><line x1="105" y1="1159.5" x2="136.5" y2="1159.5" stroke="#2a2424" stroke-width="4.6"/><line x1="105" y1="1159.5" x2="136.5" y2="1159.5" stroke="#6b4a3a" stroke-width="2.6"/><circle cx="136.5" cy="1159.5" r="3.2" fill="#e8d2a0" stroke="#2a2424" stroke-width="1.2"/><line x1="105" y1="1159.5" x2="127.3" y2="1181.8" stroke="#2a2424" stroke-width="4.6"/><line x1="105" y1="1159.5" x2="127.3" y2="1181.8" stroke="#6b4a3a" stroke-width="2.6"/><circle cx="127.3" cy="1181.8" r="3.2" fill="#e8d2a0" stroke="#2a2424" stroke-width="1.2"/><line x1="105" y1="1159.5" x2="105.0" y2="1191.0" stroke="#2a2424" stroke-width="4.6"/><line x1="105" y1="1159.5" x2="105.0" y2="1191.0" stroke="#6b4a3a" stroke-width="2.6"/><circle cx="105.0" cy="1191.0" r="3.2" fill="#e8d2a0" stroke="#2a2424" stroke-width="1.2"/><line x1="105" y1="1159.5" x2="82.7" y2="1181.8" stroke="#2a2424" stroke-width="4.6"/><line x1="105" y1="1159.5" x2="82.7" y2="1181.8" stroke="#6b4a3a" stroke-width="2.6"/><circle cx="82.7" cy="1181.8" r="3.2" fill="#e8d2a0" stroke="#2a2424" stroke-width="1.2"/><line x1="105" y1="1159.5" x2="73.5" y2="1159.5" stroke="#2a2424" stroke-width="4.6"/><line x1="105" y1="1159.5" x2="73.5" y2="1159.5" stroke="#6b4a3a" stroke-width="2.6"/><circle cx="73.5" cy="1159.5" r="3.2" fill="#e8d2a0" stroke="#2a2424" stroke-width="1.2"/><line x1="105" y1="1159.5" x2="82.7" y2="1137.2" stroke="#2a2424" stroke-width="4.6"/><line x1="105" y1="1159.5" x2="82.7" y2="1137.2" stroke="#6b4a3a" stroke-width="2.6"/><circle cx="82.7" cy="1137.2" r="3.2" fill="#e8d2a0" stroke="#2a2424" stroke-width="1.2"/><line x1="105" y1="1159.5" x2="105.0" y2="1128.0" stroke="#2a2424" stroke-width="4.6"/><line x1="105" y1="1159.5" x2="105.0" y2="1128.0" stroke="#6b4a3a" stroke-width="2.6"/><circle cx="105.0" cy="1128.0" r="3.2" fill="#e8d2a0" stroke="#2a2424" stroke-width="1.2"/><line x1="105" y1="1159.5" x2="127.3" y2="1137.2" stroke="#2a2424" stroke-width="4.6"/><line x1="105" y1="1159.5" x2="127.3" y2="1137.2" stroke="#6b4a3a" stroke-width="2.6"/><circle cx="127.3" cy="1137.2" r="3.2" fill="#e8d2a0" stroke="#2a2424" stroke-width="1.2"/><circle cx="105" cy="1159.5" r="18.8" fill="none" stroke="#2a2424" stroke-width="8"/><circle cx="105" cy="1159.5" r="18.8" fill="none" stroke="#d99a3a" stroke-width="5"/><circle cx="105" cy="1159.5" r="6" fill="#e0982e" stroke="#2a2424" stroke-width="1.2"/><defs><clipPath id="bk"><path d="M656,1157 L876,1154 L882,1194 L880,1271 L662,1275 L654,1214 Z"/></clipPath></defs><g clip-path="url(#bk)"><rect x="654" y="1154" width="228" height="121" fill="#eceae2"/><rect x="654" y="1154" width="228" height="92" fill="#70b3e2"/><rect x="749" y="1158" width="80" height="40" fill="#93c6ea" opacity="0.7"/><rect x="654" y="1204" width="50" height="40" fill="#9ccbea" opacity="0.6"/><path d="M666,1184 Q664,1174 673,1174 Q676,1168 685,1170 Q694,1166 698,1173 Q705,1176 701,1184 Z" fill="#f6f6f4" stroke="#2a2424" stroke-width="0.9"/><path d="M771,1176 Q770,1169 777,1169 Q782,1164 789,1167 Q797,1167 797,1176 Z" fill="#f6f6f4" stroke="#2a2424" stroke-width="0.9"/><path d="M847,1175 Q846,1169 852,1169 Q857,1165 863,1168 Q871,1168 870,1175 Z" fill="#f6f6f4" stroke="#2a2424" stroke-width="0.9"/><path d="M832,1207 Q830,1190 845,1182 Q860,1176 875,1184 Q884,1195 880,1207 Z" fill="#4a8038" stroke="#2a2424" stroke-width="0.9"/><path d="M709,1234 Q704,1200 709,1170 Q714,1156 722,1160 Q728,1153 736,1157 Q746,1175 748,1205 Q750,1225 746,1234 Z" fill="#4c7f34" stroke="#2a2424" stroke-width="0.9"/><path d="M716,1225 Q713,1195 719,1170 Q727,1168 730,1180 Q736,1200 733,1228 Z" fill="#7aa84a" opacity="0.75"/><path d="M747,1212 L775,1203 L840,1206 L882,1205 L882,1240 L747,1240 Z" fill="#e2d2bc" stroke="#2a2424" stroke-width="0.9"/><path d="M747,1214 L770,1206 L810,1210 L790,1218 Z" fill="#e8a070" stroke="#2a2424" stroke-width="0.9"/><path d="M815,1213 L830,1205 L882,1206 L882,1215 L820,1220 Z" fill="#e57a3c" stroke="#2a2424" stroke-width="0.9"/><path d="M762,1222 L882,1217 L882,1240 L762,1242 Z" fill="#d9c9b2" stroke="#2a2424" stroke-width="0.9"/><rect x="765" y="1226" width="3.5" height="9" fill="#55504c"/><rect x="773" y="1226" width="3.5" height="9" fill="#55504c"/><rect x="781" y="1226" width="3.5" height="9" fill="#55504c"/><rect x="789" y="1226" width="3.5" height="9" fill="#55504c"/><rect x="797" y="1226" width="3.5" height="9" fill="#55504c"/><rect x="805" y="1226" width="3.5" height="9" fill="#55504c"/><rect x="813" y="1226" width="3.5" height="9" fill="#55504c"/><rect x="821" y="1226" width="3.5" height="9" fill="#55504c"/><rect x="829" y="1226" width="3.5" height="9" fill="#55504c"/><rect x="837" y="1226" width="3.5" height="9" fill="#55504c"/><rect x="845" y="1226" width="3.5" height="9" fill="#55504c"/><rect x="853" y="1226" width="3.5" height="9" fill="#55504c"/><rect x="861" y="1226" width="3.5" height="9" fill="#55504c"/><rect x="869" y="1226" width="3.5" height="9" fill="#55504c"/><rect x="877" y="1226" width="3.5" height="9" fill="#55504c"/><path d="M758,1215 L758,1180 L761,1172 L764,1180 L764,1215 Z" fill="#e8e4dc" stroke="#2a2424" stroke-width="0.9"/><path d="M799,1218 L799,1164 L802,1154 L805,1164 L805,1218 Z" fill="#e8e4dc" stroke="#2a2424" stroke-width="0.9"/><path d="M778,1220 L778,1200 L780,1195 L782,1200 L782,1220 Z" fill="#e8e4dc" stroke="#2a2424" stroke-width="0.9"/><path d="M787,1220 L787,1196 L789,1191 L791,1196 L791,1220 Z" fill="#e8e4dc" stroke="#2a2424" stroke-width="0.9"/><path d="M660,1214 L675,1207 L698,1207 L712,1214 Z" fill="#e0703c" stroke="#2a2424" stroke-width="0.9"/><rect x="662" y="1214" width="49" height="29" fill="#e8eef4" stroke="#2a2424" stroke-width="0.9"/><rect x="668" y="1220" width="3.5" height="6" fill="#5a6a7a"/><rect x="668" y="1232" width="3.5" height="6" fill="#5a6a7a"/><rect x="678" y="1220" width="3.5" height="6" fill="#5a6a7a"/><rect x="678" y="1232" width="3.5" height="6" fill="#5a6a7a"/><rect x="690" y="1220" width="3.5" height="6" fill="#5a6a7a"/><rect x="690" y="1232" width="3.5" height="6" fill="#5a6a7a"/><rect x="700" y="1220" width="3.5" height="6" fill="#5a6a7a"/><rect x="700" y="1232" width="3.5" height="6" fill="#5a6a7a"/><rect x="711" y="1232" width="29" height="11" fill="#c0583a" stroke="#2a2424" stroke-width="0.9"/><path d="M777,1250 L810,1240 L882,1236 L882,1256 L790,1258 Z" fill="#e6773a" stroke="#2a2424" stroke-width="0.9"/><rect x="789" y="1256" width="93" height="19" fill="#e4d8c2" stroke="#2a2424" stroke-width="0.9"/><path d="M789,1259 L882,1258" stroke="#4a3a30" stroke-width="2"/><rect x="812" y="1262" width="6" height="13" fill="#4a3a30"/><rect x="850" y="1264" width="10" height="8" fill="#4a3a30"/><path d="M656,1248 L700,1240 L752,1240 L790,1275 L656,1275 Z" fill="#d6cdb8" stroke="#2a2424" stroke-width="0.9"/><path d="M664,1252 L700,1245 L704,1250 L670,1260 Z" fill="#bfb6a2"/><path d="M692,1275 Q710,1256 735,1250 L742,1256 Q725,1262 720,1275 Z" fill="#58a6d8"/><path d="M662,1275 L695,1252 L699,1255 L670,1275 Z" fill="#7aa84a"/><path d="M755,1246 L789,1256 L789,1275 L760,1275 Z" fill="#55784a"/></g><path d="M466,769 L472,768.5 L476,785 L482,768 L484,770 L476,791 L473,791 Z" fill="#e8562e"/><path d="M491,763 L471,811" stroke="#e8562e" stroke-width="2"/><path d="M498,779 Q492,774 487,779 Q484,786 493,789 Q498,793 492,800 Q488,802 484,798" fill="none" stroke="#e8562e" stroke-width="4.2" stroke-linecap="round"/>
</svg>
<div class="t" style="left:59px;top:37.97px;font-size:15.99px;font-style:normal;font-weight:bold;color:#ffffff;letter-spacing:1.126px;transform:scaleX(0.8600)">УКРАЇНСЬКІ ЗЕМЛІ У СКЛАДІ ВЕЛИКОГО КНЯЗІВСТВА ЛИТОВСЬКОГО</div>
<div class="t" style="left:74px;top:220.97px;font-size:15.99px;font-style:normal;font-weight:bold;color:#ffffff;letter-spacing:1.624px;transform:scaleX(0.8600)">УКРАЇНСЬКІ ЗЕМЛІ У СКЛАДІ ПОЛЬСЬКОГО КОРОЛІВСТВА</div>
<div class="t" style="left:52px;top:827.97px;font-size:15.99px;font-style:normal;font-weight:bold;color:#ffffff;letter-spacing:1.593px;transform:scaleX(0.8600)">УКРАЇНСЬКІ ЗЕМЛІ У СКЛАДІ МОЛДАВСЬКОГО КНЯЗІВСТВА</div>
<div class="t" style="left:35px;top:937.97px;font-size:15.99px;font-style:normal;font-weight:bold;color:#ffffff;letter-spacing:1.569px;transform:scaleX(0.8600)">УКРАЇНСЬКІ ЗЕМЛІ У СКЛАДІ МОСКОВСЬКОГО КНЯЗІВСТВА</div>
<div class="t" style="left:122px;top:1062.97px;font-size:15.99px;font-style:normal;font-weight:bold;color:#ffffff;letter-spacing:1.614px;transform:scaleX(0.8600)">ГЕНУЕЗЬКІ КОЛОНІЇ. ДЕРЖАВА ФЕОДОРО В КРИМУ. УТВОРЕННЯ КРИМСЬКОГО ХАНАТУ</div>
<div class="t" style="left:37px;top:102.97px;font-size:15.99px;font-style:normal;font-weight:bold;color:#17241f;letter-spacing:1.605px;transform:scaleX(0.8600)">1362 Р.</div>
<div class="t" style="left:107px;top:102.60px;font-size:16.72px;font-style:italic;font-weight:normal;color:#17241f;letter-spacing:2.219px;transform:scaleX(0.7400)">БИТВА БІЛЯ Р. СИНІ ВОДИ</div>
<div class="t" style="left:37px;top:467.97px;font-size:15.99px;font-style:normal;font-weight:bold;color:#17241f;letter-spacing:1.417px;transform:scaleX(0.8600)">1385 Р. КРЕВСЬКА УНІЯ</div>
<div class="t" style="left:47px;top:695.97px;font-size:15.99px;font-style:normal;font-weight:bold;color:#17241f;letter-spacing:1.336px;transform:scaleX(0.8600)">1410 Р. ГРЮНВАЛЬДСЬКА БИТВА</div>
<div class="t" style="left:32px;top:994.97px;font-size:15.99px;font-style:normal;font-weight:bold;color:#17241f;letter-spacing:1.485px;transform:scaleX(0.8600)">1514 Р. БИТВА ПІД ОРШЕЮ</div>
<div class="t" style="left:32px;top:1255.97px;font-size:15.99px;font-style:normal;font-weight:bold;color:#17241f;letter-spacing:1.482px;transform:scaleX(0.8600)">1441 Р. УТВОРЕННЯ КРИМСЬКОГО ХАНАТУ</div>
<div class="t" style="left:107px;top:1274.97px;font-size:15.99px;font-style:normal;font-weight:bold;color:#17241f;letter-spacing:2.072px;transform:scaleX(0.8600)">ХАНОМ ХАДЖІ ГЕРАЕМ</div>
<div class="t" style="left:37px;top:71.97px;font-size:15.99px;font-style:normal;font-weight:bold;color:#2b2b2b;letter-spacing:0.774px;transform:scaleX(0.8600)">1340 Р.</div>
<div class="t" style="left:115px;top:72.60px;font-size:16.72px;font-style:italic;font-weight:normal;color:#2b2b2b;letter-spacing:2.702px;transform:scaleX(0.7400)">ЛЮБАРТ ПОЧАВ КНЯЖИТИ НА ВОЛИНІ</div>
<div class="t" style="left:370px;top:102.60px;font-size:16.72px;font-style:italic;font-weight:normal;color:#2b2b2b;letter-spacing:1.980px;transform:scaleX(0.7400)">ПЕРЕМОГА НАД ЗОЛОТОЮ ОРДОЮ</div>
<div class="t" style="left:836px;top:88.60px;font-size:16.72px;font-style:italic;font-weight:normal;color:#2b2b2b;letter-spacing:2.436px;transform:scaleX(0.7400)">ЛУЦЬКИЙ</div>
<div class="t" style="left:848px;top:109.60px;font-size:16.72px;font-style:italic;font-weight:normal;color:#2b2b2b;letter-spacing:1.882px;transform:scaleX(0.7400)">ЗАМОК</div>
<div class="t" style="left:148px;top:143.97px;font-size:15.99px;font-style:normal;font-weight:bold;color:#2b2b2b;letter-spacing:1.415px;transform:scaleX(0.8600)">ПРИЄДНАННЯ БІЛЬШОСТІ УКРАЇНСЬКИХ ЗЕМЕЛЬ ДО ВЕЛИКОГО</div>
<div class="t" style="left:296px;top:163.97px;font-size:15.99px;font-style:normal;font-weight:bold;color:#2b2b2b;letter-spacing:1.328px;transform:scaleX(0.8600)">КНЯЗІВСТВА ЛИТОВСЬКОГО</div>
<div class="t" style="left:200px;top:178.60px;font-size:16.72px;font-style:italic;font-weight:normal;color:#2b2b2b;letter-spacing:3.082px;transform:scaleX(0.7400)">“СТАРОВИНИ НЕ РУШИМО, НОВИНИ НЕ ВВОДИМО”</div>
<div class="t" style="left:45px;top:259.97px;font-size:15.99px;font-style:normal;font-weight:bold;color:#2b2b2b;letter-spacing:1.605px;transform:scaleX(0.8600)">1349 Р.</div>
<div class="t" style="left:109px;top:259.60px;font-size:16.72px;font-style:italic;font-weight:normal;color:#2b2b2b;letter-spacing:2.216px;transform:scaleX(0.7400)">ПОХІД ПОЛЬСЬКОГО</div>
<div class="t" style="left:31px;top:278.60px;font-size:16.72px;font-style:italic;font-weight:normal;color:#2b2b2b;letter-spacing:2.592px;transform:scaleX(0.7400)">КОРОЛЯ КАЗИМИРА III ВЕЛИКОГО</div>
<div class="t" style="left:80px;top:297.60px;font-size:16.72px;font-style:italic;font-weight:normal;color:#2b2b2b;letter-spacing:2.074px;transform:scaleX(0.7400)">НА УКРАЇНСЬКІ ЗЕМЛІ</div>
<div class="t" style="left:376px;top:258.60px;font-size:16.72px;font-style:italic;font-weight:normal;color:#2b2b2b;letter-spacing:2.587px;transform:scaleX(0.7400)">ПРИЄДНАННЯ ГАЛИЧИНИ</div>
<div class="t" style="left:320px;top:278.60px;font-size:16.72px;font-style:italic;font-weight:normal;color:#2b2b2b;letter-spacing:2.401px;transform:scaleX(0.7400)">(ЗАКРІПЛЕНО “ВІЧНИМ МИРОМ” 1366 Р.)</div>
<div class="t" style="left:657px;top:248.97px;font-size:15.99px;font-style:normal;font-weight:bold;color:#2b2b2b;letter-spacing:1.605px;transform:scaleX(0.8600)">1387 Р.</div>
<div class="t" style="left:722px;top:248.60px;font-size:16.72px;font-style:italic;font-weight:normal;color:#2b2b2b;letter-spacing:2.052px;transform:scaleX(0.7400)">ОСТАТОЧНЕ ПРИЄДНАННЯ</div>
<div class="t" style="left:778px;top:270.60px;font-size:16.72px;font-style:italic;font-weight:normal;color:#2b2b2b;letter-spacing:2.829px;transform:scaleX(0.7400)">ГАЛИЧИНИ</div>
<div class="t" style="left:659px;top:289.97px;font-size:15.99px;font-style:normal;font-weight:bold;color:#2b2b2b;letter-spacing:1.605px;transform:scaleX(0.8600)">1434 Р.</div>
<div class="t" style="left:720px;top:290.60px;font-size:16.72px;font-style:italic;font-weight:normal;color:#2b2b2b;letter-spacing:2.226px;transform:scaleX(0.7400)">ПРИЄДНАННЯ ЗАХІДНОГО</div>
<div class="t" style="left:786px;top:311.60px;font-size:16.72px;font-style:italic;font-weight:normal;color:#2b2b2b;letter-spacing:1.504px;transform:scaleX(0.7400)">ПОДІЛЛЯ.</div>
<div class="t" style="left:721px;top:328.60px;font-size:16.72px;font-style:italic;font-weight:normal;color:#2b2b2b;letter-spacing:2.039px;transform:scaleX(0.7400)">УТВОРЕННЯ РУСЬКОГО ТА</div>
<div class="t" style="left:716px;top:348.60px;font-size:16.72px;font-style:italic;font-weight:normal;color:#2b2b2b;letter-spacing:1.975px;transform:scaleX(0.7400)">ПОДІЛЬСЬКОГО ВОЄВОДСТВ</div>
<div class="t" style="left:235px;top:346.60px;font-size:16.72px;font-style:italic;font-weight:normal;color:#2b2b2b;letter-spacing:2.119px;transform:scaleX(0.7400)">ПОЛЬСЬКА СИСТЕМА УПРАВЛІННЯ</div>
<div class="t" style="left:300px;top:365.60px;font-size:16.72px;font-style:italic;font-weight:normal;color:#2b2b2b;letter-spacing:1.575px;transform:scaleX(0.7400)">ТА СУДОЧИНСТВА</div>
<div class="t" style="left:226px;top:390.60px;font-size:16.72px;font-style:italic;font-weight:normal;color:#2b2b2b;letter-spacing:2.529px;transform:scaleX(0.7400)">ПОШИРЕННЯ КАТОЛИЦИЗМУ</div>
<div class="t" style="left:226px;top:411.60px;font-size:16.72px;font-style:italic;font-weight:normal;color:#2b2b2b;letter-spacing:2.292px;transform:scaleX(0.7400)">ВИТІСНЕННЯ УКРАЇНЦІВ З РЕМЕСЛА ТА ТОРГІВЛІ</div>
<div class="t" style="left:280px;top:466.60px;font-size:16.72px;font-style:italic;font-weight:normal;color:#2b2b2b;letter-spacing:1.830px;transform:scaleX(0.7400)">ЯГАЙЛО+ЯДВІГА</div>
<div class="t" style="left:609px;top:448.60px;font-size:16.72px;font-style:italic;font-weight:normal;color:#2b2b2b;letter-spacing:2.250px;transform:scaleX(0.7400)">ОБ'ЄДНАННЯ ВЕЛИКОГО КНЯЗІВСТВА</div>
<div class="t" style="left:684px;top:467.60px;font-size:16.72px;font-style:italic;font-weight:normal;color:#2b2b2b;letter-spacing:2.156px;transform:scaleX(0.7400)">ЛИТОВСЬКОГО ТА</div>
<div class="t" style="left:647px;top:486.60px;font-size:16.72px;font-style:italic;font-weight:normal;color:#2b2b2b;letter-spacing:2.061px;transform:scaleX(0.7400)">ПОЛЬСЬКОГО КОРОЛІВСТВА</div>
<div class="t" style="left:40px;top:515.60px;font-size:16.72px;font-style:italic;font-weight:normal;color:#2b2b2b;letter-spacing:2.251px;transform:scaleX(0.7400)">ПРИБОРКАННЯ ЗАЗІХАНЬ</div>
<div class="t" style="left:102px;top:533.60px;font-size:16.72px;font-style:italic;font-weight:normal;color:#2b2b2b;letter-spacing:2.655px;transform:scaleX(0.7400)">МОСКВИ</div>
<div class="t" style="left:39px;top:611.60px;font-size:16.72px;font-style:italic;font-weight:normal;color:#2b2b2b;letter-spacing:2.176px;transform:scaleX(0.7400)">КНЯЗЮВАННЯ ВІТОВТА</div>
<div class="t" style="left:272px;top:517.60px;font-size:16.72px;font-style:italic;font-weight:normal;color:#2b2b2b;letter-spacing:2.255px;transform:scaleX(0.7400)">СПРОБА ЗМІЦНИТИ НЕЗАЛЕЖНІСТЬ ВЕЛИКОГО</div>
<div class="t" style="left:345px;top:536.60px;font-size:16.72px;font-style:italic;font-weight:normal;color:#2b2b2b;letter-spacing:2.208px;transform:scaleX(0.7400)">КНЯЗІВСТВА ЛИТОВСЬКОГО</div>
<div class="t" style="left:296px;top:559.60px;font-size:16.72px;font-style:italic;font-weight:normal;color:#2b2b2b;letter-spacing:2.218px;transform:scaleX(0.7400)">РОЗШИРЕННЯ КОРДОНІВ ДО ЧОРНОГО МОРЯ</div>
<div class="t" style="left:276px;top:586.60px;font-size:16.72px;font-style:italic;font-weight:normal;color:#2b2b2b;letter-spacing:2.463px;transform:scaleX(0.7400)">ДОМІГСЯ ВІДМОВИ МОНГОЛІВ ВІД ПРЕТЕНЗІЙ</div>
<div class="t" style="left:372px;top:608.60px;font-size:16.72px;font-style:italic;font-weight:normal;color:#2b2b2b;letter-spacing:2.074px;transform:scaleX(0.7400)">НА УКРАЇНСЬКІ ЗЕМЛІ</div>
<div class="t" style="left:279px;top:638.60px;font-size:16.72px;font-style:italic;font-weight:normal;color:#2b2b2b;letter-spacing:2.157px;transform:scaleX(0.7400)">ПІДТРИМКА ПРАГНЕННЯ УНЕЗАЛЕЖНЕННЯ</div>
<div class="t" style="left:365px;top:656.60px;font-size:16.72px;font-style:italic;font-weight:normal;color:#2b2b2b;letter-spacing:1.782px;transform:scaleX(0.7400)">КРИМСЬКОГО УЛУСУ</div>
<div class="t" style="left:678px;top:520.97px;font-size:15.99px;font-style:normal;font-weight:bold;color:#2b2b2b;letter-spacing:0.110px;transform:scaleX(0.8600)">1401 Р.</div>
<div class="t" style="left:732px;top:521.60px;font-size:16.72px;font-style:italic;font-weight:normal;color:#2b2b2b;letter-spacing:2.308px;transform:scaleX(0.7400)">УКЛАДАННЯ УНІЇ У ВІЛЬНІ</div>
<div class="t" style="left:679px;top:550.97px;font-size:15.99px;font-style:normal;font-weight:bold;color:#2b2b2b;letter-spacing:-0.056px;transform:scaleX(0.8600)">1413 Р.</div>
<div class="t" style="left:733px;top:551.60px;font-size:16.72px;font-style:italic;font-weight:normal;color:#2b2b2b;letter-spacing:2.154px;transform:scaleX(0.7400)">ГОРОДЕЛЬСЬКА УНІЯ</div>
<div class="t" style="left:681px;top:578.97px;font-size:15.99px;font-style:normal;font-weight:bold;color:#2b2b2b;letter-spacing:-0.056px;transform:scaleX(0.8600)">1429 Р.</div>
<div class="t" style="left:733px;top:578.60px;font-size:16.72px;font-style:italic;font-weight:normal;color:#2b2b2b;letter-spacing:2.903px;transform:scaleX(0.7400)">ЛУЦЬКИЙ З'ЇЗД</div>
<div class="t" style="left:757px;top:597.60px;font-size:16.72px;font-style:italic;font-weight:normal;color:#2b2b2b;letter-spacing:2.103px;transform:scaleX(0.7400)">13 МОНАРХІВ</div>
<div class="t" style="left:686px;top:641.60px;font-size:16.72px;font-style:italic;font-weight:normal;color:#2b2b2b;letter-spacing:1.981px;transform:scaleX(0.7400)">СПРОБА КОРОНАЦІЇ 1430 Р.</div>
<div class="t" style="left:395px;top:686.60px;font-size:16.72px;font-style:italic;font-weight:normal;color:#2b2b2b;letter-spacing:2.073px;transform:scaleX(0.7400)">ПОЛЬСЬКО-ЛИТОВСЬКЕ ВІЙСЬКО ПЕРЕМОГЛО</div>
<div class="t" style="left:482px;top:706.60px;font-size:16.72px;font-style:italic;font-weight:normal;color:#2b2b2b;letter-spacing:2.291px;transform:scaleX(0.7400)">ТЕВТОНСЬКИЙ ОРДЕН</div>
<div class="t" style="left:207px;top:742.60px;font-size:16.72px;font-style:italic;font-weight:normal;color:#2b2b2b;letter-spacing:2.238px;transform:scaleX(0.7400)">ЗУПИНЕНО ПРОСУВАННЯ ТЕВТОНСЬКОГО ОРДЕНУ НА СХІД ЄВРОПИ</div>
<div class="t" style="left:41px;top:781.97px;font-size:15.99px;font-style:normal;font-weight:bold;color:#2b2b2b;letter-spacing:1.547px;transform:scaleX(0.8600)">1435 Р. БИТВА ПІД ВІЛЬКОМИРОМ</div>
<div class="t" style="left:339px;top:780.60px;font-size:16.72px;font-style:italic;font-weight:normal;color:#2b2b2b;letter-spacing:2.366px;transform:scaleX(0.7400)">СВИДРИГАЙЛО</div>
<div class="t" style="left:506px;top:780.60px;font-size:16.72px;font-style:italic;font-weight:normal;color:#2b2b2b;letter-spacing:2.201px;transform:scaleX(0.7400)">СИГІЗМУНД</div>
<div class="t" style="left:677px;top:780.60px;font-size:16.72px;font-style:italic;font-weight:normal;color:#2b2b2b;letter-spacing:2.089px;transform:scaleX(0.7400)">ПЕРЕМОГА СИГІЗМУНДА</div>
<div class="t" style="left:686px;top:798.60px;font-size:16.72px;font-style:italic;font-weight:normal;color:#2b2b2b;letter-spacing:2.581px;transform:scaleX(0.7400)">(ПРИХИЛЬНИКІВ УНІЇ</div>
<div class="t" style="left:719px;top:818.60px;font-size:16.72px;font-style:italic;font-weight:normal;color:#2b2b2b;letter-spacing:2.148px;transform:scaleX(0.7400)">З ПОЛЬЩЕЮ)</div>
<div class="t" style="left:45px;top:866.60px;font-size:16.72px;font-style:italic;font-weight:normal;color:#2b2b2b;letter-spacing:2.251px;transform:scaleX(0.7400)">1359 Р. ШИПИНСЬКА ЗЕМЛЯ (ПН. БУКОВИНА)</div>
<div class="t" style="left:455px;top:861.60px;font-size:16.72px;font-style:italic;font-weight:normal;color:#2b2b2b;letter-spacing:2.257px;transform:scaleX(0.7400)">АВТОНОМІЯ У СКЛАДІ МОЛДАВСЬКОГО</div>
<div class="t" style="left:554px;top:881.60px;font-size:16.72px;font-style:italic;font-weight:normal;color:#2b2b2b;letter-spacing:1.651px;transform:scaleX(0.7400)">КНЯЗІВСТВА</div>
<div class="t" style="left:75px;top:901.60px;font-size:16.72px;font-style:italic;font-weight:normal;color:#2b2b2b;letter-spacing:2.225px;transform:scaleX(0.7400)">БУКОВИНА У СКЛАДІ МОЛДАВСЬКОГО КНЯЗІВСТВА ПОТРАПИЛА В ЗАЛЕЖНІСТЬ ВІД</div>
<div class="t" style="left:534px;top:921.60px;font-size:16.72px;font-style:italic;font-weight:normal;color:#2b2b2b;letter-spacing:2.063px;transform:scaleX(0.7400)">ОСМАНСЬКОЇ ІМПЕРІЇ</div>
<div class="t" style="left:387px;top:986.60px;font-size:16.72px;font-style:italic;font-weight:normal;color:#2b2b2b;letter-spacing:2.215px;transform:scaleX(0.7400)">МОСКОВСЬКЕ КНЯЗІВСТВО ЗАЗНАЛО ПОРАЗКИ ВІД ЛИТОВСЬКОГО</div>
<div class="t" style="left:449px;top:1006.60px;font-size:16.72px;font-style:italic;font-weight:normal;color:#2b2b2b;letter-spacing:2.111px;transform:scaleX(0.7400)">ВІЙСЬКА НА ЧОЛІ З КОСТЯНТИНОМ ОСТРОЗЬКИМ</div>
<div class="t" style="left:37px;top:1108.97px;font-size:15.99px;font-style:normal;font-weight:bold;color:#2b2b2b;letter-spacing:-0.056px;transform:scaleX(0.8600)">1261 Р.</div>
<div class="t" style="left:100px;top:1108.60px;font-size:16.72px;font-style:italic;font-weight:normal;color:#2b2b2b;letter-spacing:2.637px;transform:scaleX(0.7400)">ГЕНУЕЗЦІ ОТРИМАЛИ ПРАВО ТОРГІВЛІ</div>
<div class="t" style="left:181px;top:1128.60px;font-size:16.72px;font-style:italic;font-weight:normal;color:#2b2b2b;letter-spacing:2.449px;transform:scaleX(0.7400)">В ЧОРНОМУ МОРІ</div>
<div class="t" style="left:460px;top:1108.60px;font-size:16.72px;font-style:italic;font-weight:normal;color:#2b2b2b;letter-spacing:2.155px;transform:scaleX(0.7400)">ЗАСНУВАННЯ ФАКТОРІЇ (ТОРГОВЕЛЬНЕ ПОСЕЛЕННЯ)</div>
<div class="t" style="left:563px;top:1128.60px;font-size:16.72px;font-style:italic;font-weight:normal;color:#2b2b2b;letter-spacing:2.133px;transform:scaleX(0.7400)">КАФА НА МІСЦІ ФЕОДОСІЇ</div>
<div class="t" style="left:296px;top:1161.60px;font-size:16.72px;font-style:italic;font-weight:normal;color:#2b2b2b;letter-spacing:2.487px;transform:scaleX(0.7400)">ОВОЛОДІННЯ ПІВДНЕМ КРИМУ</div>
<div class="t" style="left:37px;top:1205.97px;font-size:15.99px;font-style:normal;font-weight:bold;color:#2b2b2b;letter-spacing:1.418px;transform:scaleX(0.8600)">КІНЕЦЬ XII СТ.</div>
<div class="t" style="left:155px;top:1205.60px;font-size:16.72px;font-style:italic;font-weight:normal;color:#2b2b2b;letter-spacing:2.211px;transform:scaleX(0.7400)">УТВОРЕННЯ ДЕРЖАВИ ФЕОДОРО ЗІ СТОЛИЦЕЮ В МАНГУПІ</div>
<div class="t" style="left:529px;top:1241.97px;font-size:15.99px;font-style:normal;font-weight:bold;color:#2b2b2b;letter-spacing:1.711px;transform:scaleX(0.8600)">БАХЧИСАРАЙ</div>
<div class="t" style="left:387px;top:1283.97px;font-size:15.99px;font-style:normal;font-weight:bold;color:#2b2b2b;letter-spacing:-0.056px;transform:scaleX(0.8600)">1478 Р.</div>
<div class="t" style="left:449px;top:1282.60px;font-size:16.72px;font-style:italic;font-weight:normal;color:#2b2b2b;letter-spacing:2.340px;transform:scaleX(0.7400)">ПОТРАПИВ У ВАСАЛЬНУ ЗАЛЕЖНІСТЬ ВІД ОСМАНСЬКОЇ ІМПЕРІЇ</div>
</body></html>
